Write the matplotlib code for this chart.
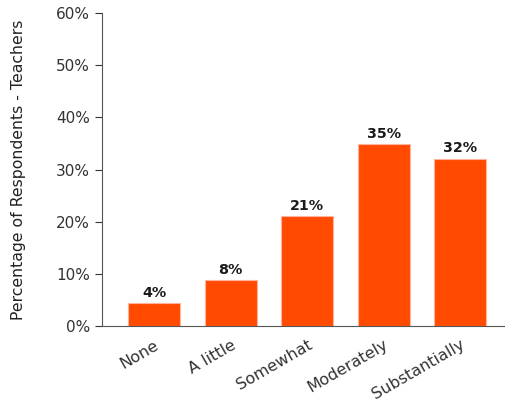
import matplotlib
matplotlib.use("Agg")
import matplotlib.pyplot as plt
from matplotlib.ticker import FuncFormatter

categories = ["None", "A little", "Somewhat", "Moderately", "Substantially"]
values = [4.35, 8.75, 21.1, 34.9, 32.1]
value_labels = ["4%", "8%", "21%", "35%", "32%"]
yticks = [0, 10, 20, 30, 40, 50, 60]

plt.rcParams['font.family'] = ['DejaVu Sans']

fig = plt.figure(figsize=(5.06, 4.03), dpi=100)
ax = fig.add_axes([0.2016, 0.191, 0.7984, 0.7767])

x = range(len(categories))
bars = ax.bar(x, values, width=0.68, color='#FF4A00', edgecolor='#FFB59A', linewidth=0.8)

for b, lab in zip(bars, value_labels):
    ax.text(b.get_x() + b.get_width() / 2, b.get_height() + 0.6, lab,
            ha='center', va='bottom', fontsize=10.3, fontweight='bold', color='#1a1a1a')

ax.set_ylim(0, 60)
ax.set_xlim(-0.68, 4.6)
ax.set_yticks(yticks)
ax.yaxis.set_major_formatter(FuncFormatter(lambda v, p: "%d%%" % v))
ax.set_xticks(list(x))
ax.set_xticklabels(categories, rotation=30, ha='right', rotation_mode='anchor', fontsize=11.5, color='#333333')
ax.tick_params(axis='x', length=0, pad=8)
ax.tick_params(axis='y', length=5, colors='#333333', labelsize=11, direction='out')

for s in ['top', 'right']:
    ax.spines[s].set_visible(False)
ax.spines['left'].set_color('#555555')
ax.spines['bottom'].set_color('#555555')

ax.set_ylabel("Percentage of Respondents - Teachers", fontsize=11.3, color='#222222')
ax.yaxis.set_label_coords(-0.188, 0.5)

fig.savefig("out.png", dpi=100)
